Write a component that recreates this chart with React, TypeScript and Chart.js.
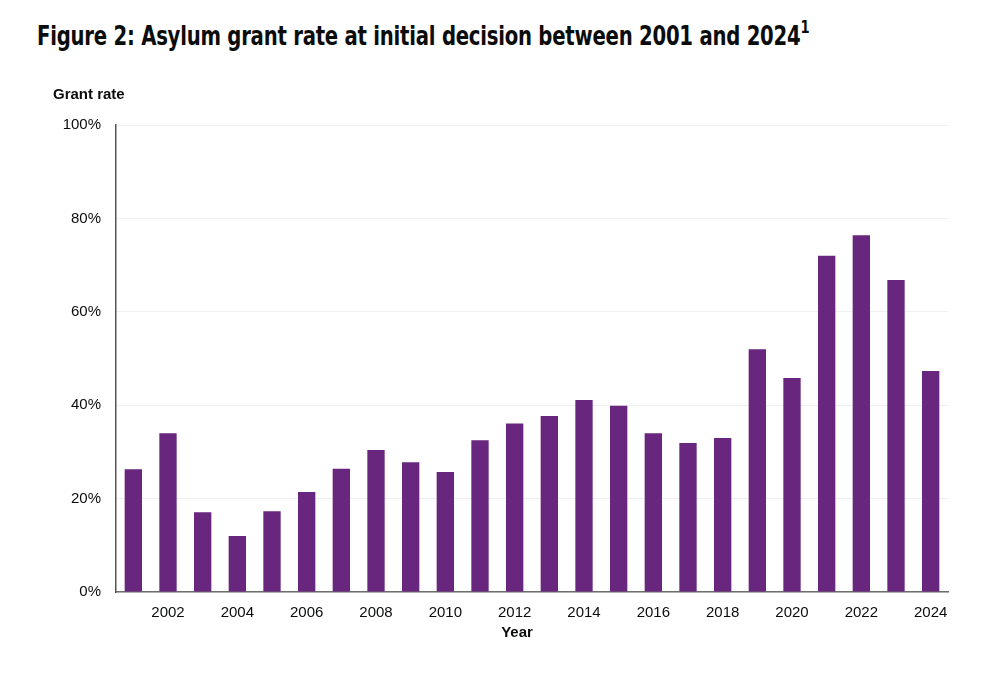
import React, { useEffect, useRef } from "react";
import { Chart, registerables } from "chart.js";

Chart.register(...registerables);

const years = [
  "2001", "2002", "2003", "2004", "2005", "2006", "2007", "2008",
  "2009", "2010", "2011", "2012", "2013", "2014", "2015", "2016",
  "2017", "2018", "2019", "2020", "2021", "2022", "2023", "2024",
];

const grantRate = [
  26.3, 34.0, 17.1, 12.0, 17.3, 21.4, 26.4, 30.4,
  27.8, 25.7, 32.5, 36.1, 37.7, 41.1, 39.9, 34.0,
  31.9, 33.0, 52.0, 45.8, 72.0, 76.4, 66.8, 47.3,
];

const shownYearLabels = [
  "2002", "2004", "2006", "2008", "2010", "2012",
  "2014", "2016", "2018", "2020", "2022", "2024",
];

const titleText = "Figure 2: Asylum grant rate at initial decision between 2001 and 2024";
const yAxisTitle = "Grant rate";
const xAxisTitle = "Year";

const BAR_COLOR = "#68267e";
const FONT = "'Liberation Sans', Arial, sans-serif";

export default function App() {
  const canvasRef = useRef<HTMLCanvasElement | null>(null);

  useEffect(() => {
    if (!canvasRef.current) return;

    const axisTitlesPlugin = {
      id: "axisTitlesPlugin",
      afterDraw(chart: any) {
        const ctx = chart.ctx;
        ctx.save();
        ctx.font = `bold 15px ${FONT}`;
        ctx.fillStyle = "#0b0c0c";
        ctx.textBaseline = "middle";
        ctx.textAlign = "left";
        ctx.fillText(yAxisTitle, 53, 95);
        ctx.textAlign = "center";
        ctx.fillText(xAxisTitle, 517, 633);
        ctx.restore();
      },
    };

    const chart = new Chart(canvasRef.current, {
      type: "bar",
      data: {
        labels: years,
        datasets: [
          {
            data: grantRate,
            backgroundColor: BAR_COLOR,
            borderWidth: 0,
            barPercentage: 0.5,
            categoryPercentage: 1,
          },
        ],
      },
      options: {
        responsive: true,
        maintainAspectRatio: false,
        animation: false,
        layout: { padding: { top: 125, right: 52, left: 0, bottom: 0 } },
        plugins: {
          legend: { display: false },
          tooltip: { enabled: false },
          title: { display: false },
        },
        scales: {
          x: {
            afterFit(scale: any) {
              scale.height = 88;
            },
            grid: { display: false, drawTicks: false },
            border: { display: true, color: "#6f6f6f", width: 1.5 },
            ticks: {
              autoSkip: false,
              maxRotation: 0,
              minRotation: 0,
              padding: 12,
              color: "#0b0c0c",
              font: { family: FONT, size: 15 },
              callback(this: any, value: any) {
                const label = this.getLabelForValue(value);
                return shownYearLabels.includes(label) ? label : "";
              },
            },
            title: { display: false },
          },
          y: {
            min: 0,
            max: 100,
            afterFit(scale: any) {
              scale.width = 116;
            },
            grid: { color: "#efefef", lineWidth: 1, drawTicks: false },
            border: { display: true, color: "#555555", width: 1.5 },
            ticks: {
              stepSize: 20,
              padding: 15,
              color: "#0b0c0c",
              font: { family: FONT, size: 15 },
              callback: (v: any) => `${v}%`,
            },
          },
        },
      },
      plugins: [axisTitlesPlugin],
    });

    return () => chart.destroy();
  }, []);

  return (
    <div
      style={{
        position: "fixed",
        left: 0,
        top: 0,
        width: 1000,
        height: 680,
        background: "#ffffff",
        overflow: "hidden",
      }}
    >
      <div
        style={{
          position: "absolute",
          left: 37,
          top: 18,
          fontFamily: "'Liberation Sans Narrow', 'DejaVu Sans Condensed', 'Roboto', sans-serif",
          fontWeight: 700,
          fontSize: 27,
          color: "#0b0c0c",
          whiteSpace: "nowrap",
          letterSpacing: -0.3,
          transform: "scaleX(0.81)",
          transformOrigin: "left top",
        }}
      >
        {titleText}
        <sup style={{ fontSize: 18, position: "relative", top: -2 }}>1</sup>
      </div>
      <canvas ref={canvasRef} style={{ position: "absolute", left: 0, top: 0, width: 1000, height: 680 }} />
    </div>
  );
}
